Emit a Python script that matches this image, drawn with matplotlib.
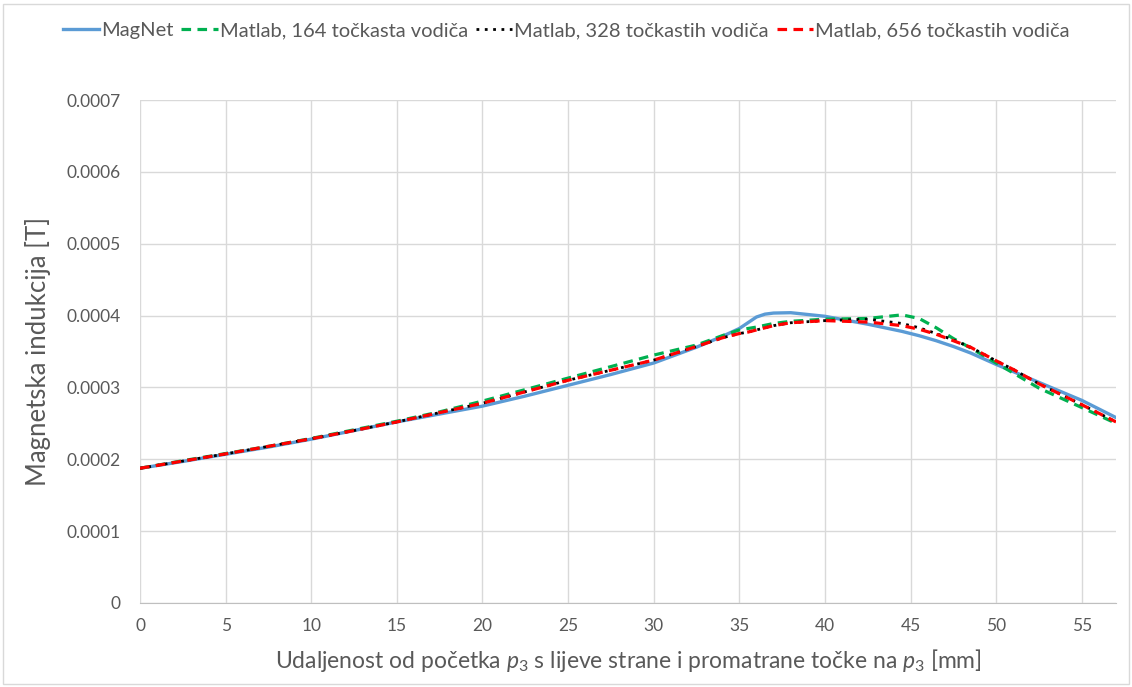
import matplotlib.pyplot as plt
from matplotlib.patches import Rectangle

plt.rcParams['font.family'] = ['Lato', 'DejaVu Sans']
plt.rcParams['mathtext.fontset'] = 'custom'
plt.rcParams['mathtext.it'] = 'Lato:italic'
plt.rcParams['mathtext.rm'] = 'Lato'

# udaljenost [mm]
x = [0, 2.5, 5, 7.5, 10, 12.5, 15, 17.5, 20, 22.5, 25, 27.5, 30, 32.5, 34, 35,
     35.5, 36, 36.5, 37, 38, 40, 42.5, 44.5, 45.5, 46.5, 47.5, 48.5, 50, 51, 52.5, 55, 57]

# indukcija [1e-4 T]
magnet = [1.875, 1.97, 2.07, 2.17, 2.28, 2.40, 2.52, 2.63, 2.74, 2.88, 3.03, 3.18, 3.34, 3.56,
          3.71, 3.82, 3.90, 3.98, 4.02, 4.035, 4.04, 3.99, 3.88, 3.78, 3.72, 3.65, 3.57, 3.48,
          3.32, 3.22, 3.07, 2.82, 2.58]
ml_164 = [1.875, 1.98, 2.08, 2.18, 2.29, 2.41, 2.53, 2.66, 2.81, 2.97, 3.13, 3.29, 3.45, 3.59,
          3.72, 3.80, 3.82, 3.84, 3.865, 3.89, 3.92, 3.95, 3.96, 4.01, 3.96, 3.83, 3.68, 3.55,
          3.34, 3.20, 2.99, 2.72, 2.50]
ml_328 = [1.875, 1.975, 2.075, 2.18, 2.285, 2.40, 2.52, 2.65, 2.78, 2.94, 3.10, 3.24, 3.38, 3.57,
          3.69, 3.75, 3.77, 3.80, 3.83, 3.86, 3.90, 3.93, 3.95, 3.89, 3.83, 3.75, 3.66, 3.56,
          3.37, 3.25, 3.05, 2.76, 2.52]
ml_656 = [1.875, 1.975, 2.075, 2.18, 2.285, 2.40, 2.52, 2.65, 2.78, 2.94, 3.10, 3.24, 3.38, 3.57,
          3.69, 3.75, 3.77, 3.80, 3.83, 3.86, 3.90, 3.93, 3.91, 3.86, 3.81, 3.74, 3.65, 3.56,
          3.37, 3.25, 3.05, 2.76, 2.52]

grey = '#595959'
fig = plt.figure(figsize=(11.32, 6.87), dpi=100)
fig.patches.append(Rectangle((0.003, 0.004), 0.994, 0.99, transform=fig.transFigure,
                             fill=False, edgecolor='#D9D9D9', lw=1))
ax = fig.add_axes([0.1237, 0.1223, 0.8622, 0.7321])

sc = 1e-4
ax.plot(x, [v * sc for v in magnet], color='#5B9BD5', lw=2.4, label='MagNet', zorder=3)
ax.plot(x, [v * sc for v in ml_164], color='#00B050', lw=2.3, ls=(0, (3, 2)),
        label='Matlab, 164 točkasta vodiča', zorder=4)
ax.plot(x, [v * sc for v in ml_328], color='black', lw=2.0, ls=(0, (1, 2)),
        label='Matlab, 328 točkastih vodiča', zorder=5)
ax.plot(x, [v * sc for v in ml_656], color='#FF0000', lw=2.3, ls=(0, (3, 2)),
        label='Matlab, 656 točkastih vodiča', zorder=6)

ax.set_xlim(0, 57)
ax.set_ylim(0, 0.0007)
ax.set_xticks(range(0, 56, 5))
ax.set_yticks([i * 1e-4 for i in range(8)])
ax.set_yticklabels(['0'] + ['%.4f' % (i * 1e-4) for i in range(1, 8)])
ax.grid(True, color='#D9D9D9', lw=1)
ax.set_axisbelow(True)
for s in ['top', 'right', 'left']:
    ax.spines[s].set_visible(False)
ax.spines['bottom'].set_color('#BFBFBF')
ax.tick_params(length=0, labelsize=12.5, colors=grey)
ax.tick_params(axis='y', pad=14)
ax.tick_params(axis='x', pad=11)

ax.set_xlabel(r'Udaljenost od početka $\mathit{p_3}$ s lijeve strane i promatrane točke na $\mathit{p_3}$ [mm]',
              fontsize=16.5, color=grey, labelpad=9)
ax.set_ylabel('Magnetska indukcija [T]', fontsize=18.5, color=grey, labelpad=11)

fig.legend(loc='center', bbox_to_anchor=(0.5, 0.955), ncol=4, frameon=False, fontsize=14.5,
           labelcolor=grey, handlelength=1.8, handletextpad=0.1, columnspacing=0.4)

fig.savefig('out.png', dpi=100)
